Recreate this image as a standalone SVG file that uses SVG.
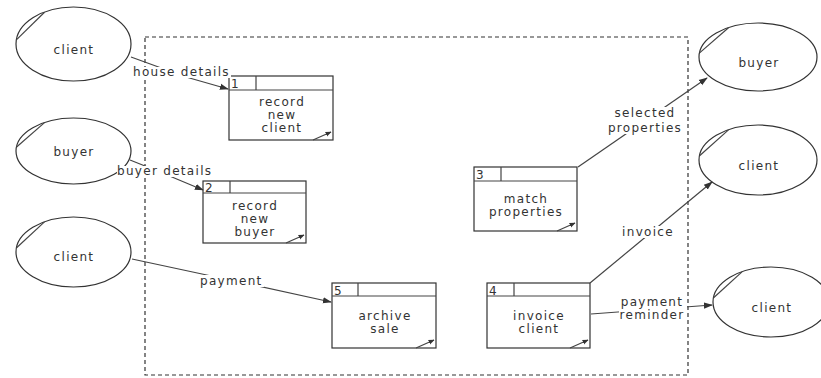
<svg xmlns="http://www.w3.org/2000/svg" width="821" height="378" viewBox="0 0 821 378">
<style>
text{font-family:"DejaVu Sans","Liberation Sans",sans-serif;font-size:12px;fill:#333;letter-spacing:1.3px}
.c{text-anchor:middle}
.ell{fill:none;stroke:#333;stroke-width:1.2}
.box{fill:#fff;stroke:#333;stroke-width:1.2}
.ln{fill:none;stroke:#444;stroke-width:1.2}
.bg{fill:#fff;stroke:none}
.bnd{fill:none;stroke:#333;stroke-width:1.2;stroke-dasharray:4 3}
</style>
<defs>
<marker id="ah" viewBox="0 0 10 10" refX="9" refY="5" markerWidth="9" markerHeight="9" markerUnits="userSpaceOnUse" orient="auto">
<path d="M0,1.5 L10,5 L0,8.5 Z" fill="#333"/>
</marker>
<marker id="sm" viewBox="0 0 10 10" refX="9" refY="5" markerWidth="6" markerHeight="6" markerUnits="userSpaceOnUse" orient="auto">
<path d="M0,1 L10,5 L0,9 Z" fill="#333"/>
</marker>
</defs>
<rect x="0" y="0" width="821" height="378" fill="#fff"/>
<rect class="bnd" x="145" y="37" width="543" height="338"/>

<g id="client-left-1">
<ellipse class="ell" cx="73.5" cy="44" rx="57.5" ry="37"/>
<path class="ln" d="M16.6,39.6 L44.5,12.2"/>
<text class="c" x="74" y="54">client</text>
</g>
<g id="buyer-left">
<ellipse class="ell" cx="73.5" cy="151" rx="57.5" ry="33"/>
<path class="ln" d="M16.6,147 L44.5,122.6"/>
<text class="c" x="74" y="156">buyer</text>
</g>
<g id="client-left-2">
<ellipse class="ell" cx="73.5" cy="252" rx="57.5" ry="35"/>
<path class="ln" d="M16.6,247.8 L44.5,221.9"/>
<text class="c" x="74" y="261">client</text>
</g>
<g id="buyer-right">
<ellipse class="ell" cx="758" cy="57" rx="59" ry="34"/>
<path class="ln" d="M699.6,52.9 L728.5,27.8"/>
<text class="c" x="759" y="67">buyer</text>
</g>
<g id="client-right-1">
<ellipse class="ell" cx="758" cy="160" rx="59" ry="35"/>
<path class="ln" d="M699.6,155.8 L728.5,129.9"/>
<text class="c" x="759" y="170">client</text>
</g>
<g id="client-right-2">
<ellipse class="ell" cx="771" cy="302" rx="58" ry="35"/>
<path class="ln" d="M713.6,297.8 L742,271.9"/>
<text class="c" x="772" y="312">client</text>
</g>

<g id="p1">
<rect class="box" x="229" y="76" width="104" height="64"/>
<path class="ln" d="M229,90 H333 M256,76 V90"/>
<text x="231" y="88">1</text>
<text class="c" x="282" y="106">record</text>
<text class="c" x="282" y="119">new</text>
<text class="c" x="282" y="132">client</text>
<path class="ln" d="M313,140 L331,132" marker-end="url(#sm)"/>
</g>
<g id="p2">
<rect class="box" x="203" y="181" width="103" height="62"/>
<path class="ln" d="M203,193 H306 M230,181 V193"/>
<text x="205" y="192">2</text>
<text class="c" x="255" y="210">record</text>
<text class="c" x="255" y="223">new</text>
<text class="c" x="255" y="236">buyer</text>
<path class="ln" d="M286,243 L304,235" marker-end="url(#sm)"/>
</g>
<g id="p3">
<rect class="box" x="474" y="167" width="103" height="64"/>
<path class="ln" d="M474,181 H577 M501,167 V181"/>
<text x="476" y="179">3</text>
<text class="c" x="526" y="203">match</text>
<text class="c" x="526" y="216">properties</text>
<path class="ln" d="M557,231 L575,223" marker-end="url(#sm)"/>
</g>
<g id="p5">
<rect class="box" x="332" y="283" width="104" height="65"/>
<path class="ln" d="M332,296 H436 M358,283 V296"/>
<text x="334" y="295">5</text>
<text class="c" x="385" y="320">archive</text>
<text class="c" x="385" y="333">sale</text>
<path class="ln" d="M416,348 L434,340" marker-end="url(#sm)"/>
</g>
<g id="p4">
<rect class="box" x="487" y="283" width="103" height="65"/>
<path class="ln" d="M487,296 H590 M514,283 V296"/>
<text x="489" y="295">4</text>
<text class="c" x="539" y="320">invoice</text>
<text class="c" x="539" y="333">client</text>
<path class="ln" d="M570,348 L588,340" marker-end="url(#sm)"/>
</g>

<g id="connectors">
<path class="ln" d="M131,57 L186,77 L228,89" marker-end="url(#ah)"/>
<path class="ln" d="M130,160 L160,172 L203,190" marker-end="url(#ah)"/>
<path class="ln" d="M132,259 L230,280 L331,302" marker-end="url(#ah)"/>
<path class="ln" d="M578,167 L707,78" marker-end="url(#ah)"/>
<path class="ln" d="M590,283 L712,182" marker-end="url(#ah)"/>
<path class="ln" d="M591,314 L712,305" marker-end="url(#ah)"/>
<rect class="bg" x="133" y="67" width="98" height="11"/>
<rect class="bg" x="117" y="166" width="96" height="11"/>
<rect class="bg" x="200" y="275" width="64" height="12"/>
<rect class="bg" x="609" y="107" width="73" height="27"/>
<rect class="bg" x="622" y="226" width="52" height="12"/>
<rect class="bg" x="619" y="296" width="68" height="25"/>
<text x="133" y="76">house details</text>
<text x="117" y="175">buyer details</text>
<text x="200" y="285">payment</text>
<text class="c" x="645" y="117">selected</text>
<text class="c" x="645" y="132">properties</text>
<text class="c" x="648" y="236">invoice</text>
<text class="c" x="652" y="306">payment</text>
<text class="c" x="652" y="319">reminder</text>
</g>
</svg>
